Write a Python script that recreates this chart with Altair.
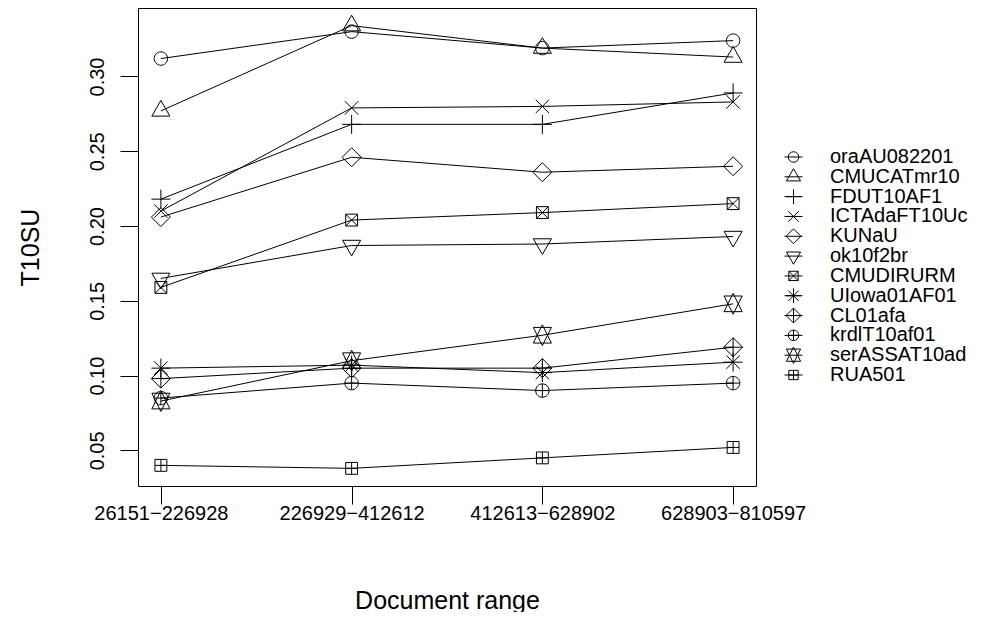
import altair as alt
import pandas as pd

ranges = ["26151\u2212226928", "226929\u2212412612", "412613\u2212628902", "628903\u2212810597"]
names = ["oraAU082201", "CMUCATmr10", "FDUT10AF1", "ICTAdaFT10Uc", "KUNaU", "ok10f2br",
         "CMUDIRURM", "UIowa01AF01", "CL01afa", "krdlT10af01", "serASSAT10ad", "RUA501"]

oraAU082201 = [0.312, 0.330, 0.319, 0.324]
CMUCATmr10 = [0.277, 0.334, 0.319, 0.313]
FDUT10AF1 = [0.218, 0.268, 0.268, 0.289]
ICTAdaFT10Uc = [0.210, 0.279, 0.280, 0.283]
KUNaU = [0.206, 0.246, 0.236, 0.240]
ok10f2br = [0.165, 0.187, 0.188, 0.193]
CMUDIRURM = [0.159, 0.204, 0.209, 0.215]
UIowa01AF01 = [0.105, 0.107, 0.102, 0.109]
CL01afa = [0.098, 0.105, 0.105, 0.119]
krdlT10af01 = [0.085, 0.095, 0.090, 0.095]
serASSAT10ad = [0.083, 0.110, 0.127, 0.148]
RUA501 = [0.040, 0.038, 0.045, 0.052]

series = [oraAU082201, CMUCATmr10, FDUT10AF1, ICTAdaFT10Uc, KUNaU, ok10f2br,
          CMUDIRURM, UIowa01AF01, CL01afa, krdlT10af01, serASSAT10ad, RUA501]

y_ticks = [0.05, 0.10, 0.15, 0.20, 0.25, 0.30]

rows = []
for n, vals in zip(names, series):
    for r, v in zip(ranges, vals):
        rows.append({"name": n, "range": r, "value": v})
df = pd.DataFrame(rows)
lg = pd.DataFrame({"name": names})

# R-style plotting symbols (pch 1..12), unit = circle radius
S = 0.886
paths = [
    "M1,0A1,1,0,1,1,-1,0A1,1,0,1,1,1,0Z",
    "M0,-1.555L1.347,0.778L-1.347,0.778Z",
    "M-1.414,0L1.414,0M0,-1.414L0,1.414",
    "M-1,-1L1,1M-1,1L1,-1",
    "M0,-1.414L1.414,0L0,1.414L-1.414,0Z",
    "M0,1.555L1.347,-0.778L-1.347,-0.778Z",
    f"M-{S},-{S}L{S},-{S}L{S},{S}L-{S},{S}ZM-{S},-{S}L{S},{S}M-{S},{S}L{S},-{S}",
    "M-1,-1L1,1M-1,1L1,-1M-1.414,0L1.414,0M0,-1.414L0,1.414",
    "M0,-1.414L1.414,0L0,1.414L-1.414,0ZM-1.414,0L1.414,0M0,-1.414L0,1.414",
    "M1,0A1,1,0,1,1,-1,0A1,1,0,1,1,1,0ZM-1,0L1,0M0,-1L0,1",
    "M0,-1.555L1.347,1.166L-1.347,1.166ZM0,1.555L1.347,-1.166L-1.347,-1.166Z",
    f"M-{S},-{S}L{S},-{S}L{S},{S}L-{S},{S}ZM-{S},0L{S},0M0,-{S}L0,{S}",
]

FONT = "Liberation Sans"
shape_enc = alt.Shape("name:N", scale=alt.Scale(domain=names, range=paths), legend=None)

X = alt.X("range:O", sort=ranges,
          scale=alt.Scale(type="point", padding=0.12),
          axis=alt.Axis(title="Document range", labelAngle=0, tickSize=18,
                        labelPadding=15, labelBaseline="alphabetic",
                        labelFontSize=20, titleFontSize=25,
                        titleX=309, titleY=114, titleBaseline="middle",
                        titleAlign="center", titleFontWeight="normal"))
Y = alt.Y("value:Q",
          scale=alt.Scale(domain=[0.0262, 0.3458], nice=False, zero=False),
          axis=alt.Axis(title="T10SU", values=y_ticks, format=".2f", tickSize=18,
                        labelAngle=-90, labelAlign="center", labelBaseline="alphabetic",
                        labelPadding=17, labelFontSize=20, titleFontSize=25,
                        titleAngle=-90, titleX=-108, titleY=239, titleAlign="center",
                        titleBaseline="middle", titleFontWeight="normal"))

base = alt.Chart(df)
lines = base.mark_line(color="black", strokeWidth=1).encode(x=X, y=Y, detail="name:N")
points = base.mark_point(filled=False, color="black", size=180, strokeWidth=1, opacity=1).encode(
    x=X, y=Y, shape=shape_enc)
main = alt.layer(lines, points)

leg_y = alt.Y("name:N", sort=names,
              scale=alt.Scale(type="point", range=[149, 367], padding=0), axis=None)
leg_rule = alt.Chart(lg).mark_rule(color="black", strokeWidth=1).encode(
    x=alt.value(646.5), x2=alt.value(664.5), y=leg_y)
leg_pts = alt.Chart(lg).mark_point(filled=False, color="black", size=110, strokeWidth=1, opacity=1).encode(
    x=alt.value(655.5), y=leg_y, shape=shape_enc)
leg_txt = alt.Chart(lg).mark_text(align="left", baseline="middle", fontSize=20, font=FONT,
                                  color="black").encode(
    x=alt.value(692), y=leg_y, text="name:N")
legend = alt.layer(leg_rule, leg_pts, leg_txt)

chart = alt.layer(main, legend).resolve_scale(y="independent").properties(
    width=618, height=478,
    autosize=alt.AutoSizeParams(type="none"),
    padding={"left": 130, "top": 0, "right": 220, "bottom": 126},
    background="white",
).configure_view(stroke="black", strokeWidth=1).configure_axis(
    domain=False, grid=False, tickColor="black", tickWidth=1,
    labelColor="black", titleColor="black", labelFont=FONT, titleFont=FONT,
)

chart.save("out.html", embed_options={"renderer": "svg", "actions": False})
